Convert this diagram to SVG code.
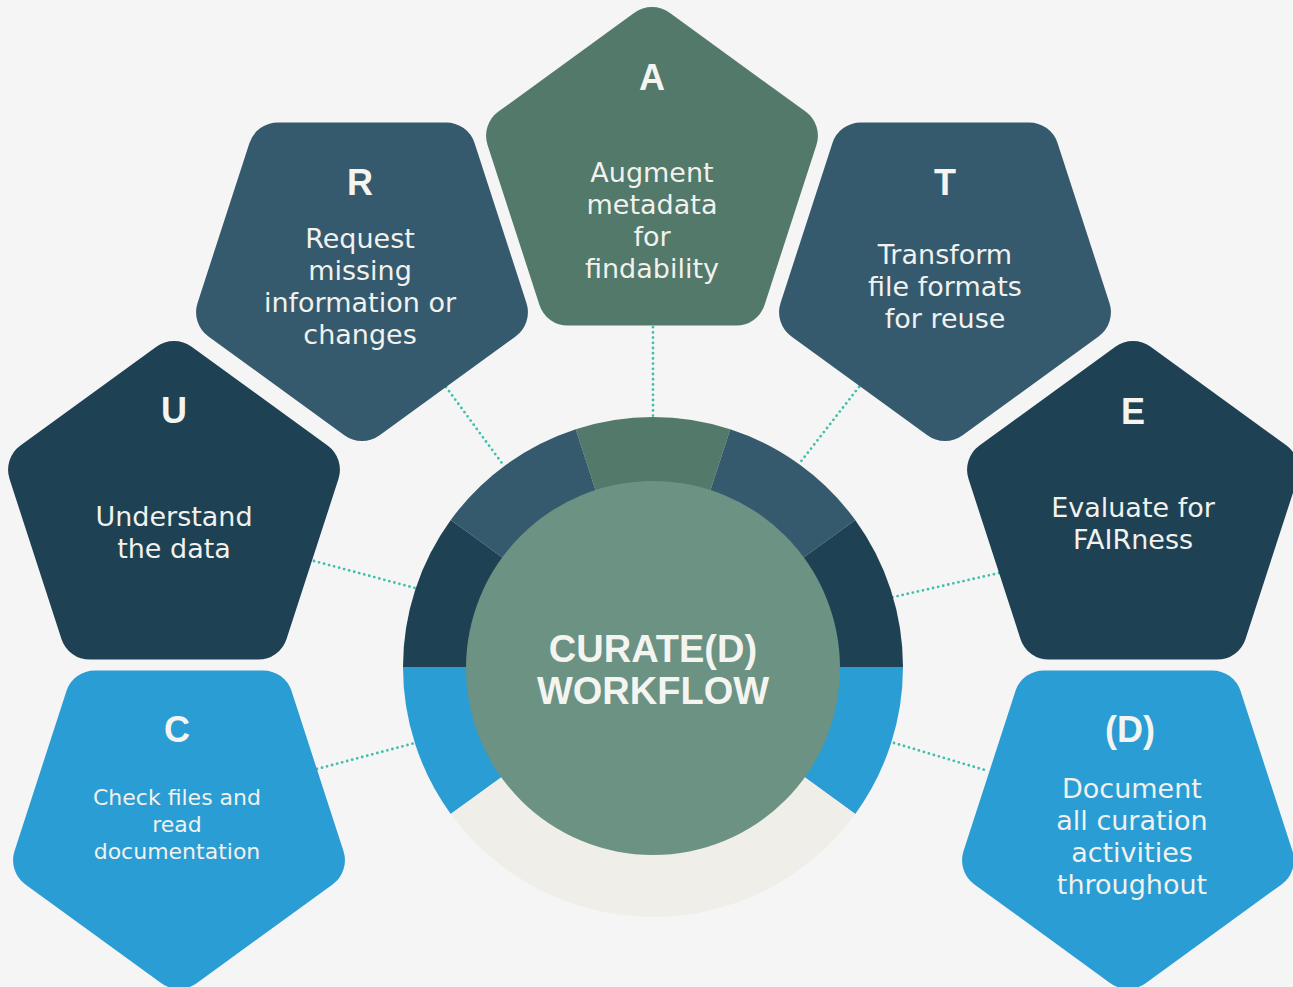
<svg xmlns="http://www.w3.org/2000/svg" xmlns:xlink="http://www.w3.org/1999/xlink" width="1293" height="987" viewBox="0 0 1293 987">
<style>
.bg{fill:#f5f5f5}
.cA{fill:#52796a}
.cR{fill:#365a6d}
.cU{fill:#1e4154}
.cC{fill:#2a9dd4}
.cL{fill:#efeee9}
.core{fill:#6b9282}
.let{font-family:"Liberation Sans",Arial,sans-serif;font-weight:bold;font-size:36px;fill:#f4f4f1;text-anchor:middle}
.txt{font-family:"DejaVu Sans","Noto Sans",sans-serif;font-size:27px;fill:#f1f1ee;text-anchor:middle}
.sm{font-size:22px}
.title{font-family:"Liberation Sans",Arial,sans-serif;font-weight:bold;font-size:38px;fill:#f4f4f1;text-anchor:middle}
.dot{fill:none;stroke:#3dbfa9;stroke-width:2.8;stroke-linecap:round;stroke-dasharray:0 5.2}
</style>
<defs>
<path id="pu" d="M17.64 -167.19 L153.55 -68.43 A30 30 0 0 1 164.45 -34.89 L112.54 124.89 A30 30 0 0 1 84 145.62 L-84 145.62 A30 30 0 0 1 -112.54 124.89 L-164.45 -34.89 A30 30 0 0 1 -153.55 -68.43 L-17.64 -167.19 A30 30 0 0 1 17.64 -167.19 Z"/>
<path id="pd" d="M17.64 167.19 L153.55 68.43 A30 30 0 0 0 164.45 34.89 L112.54 -124.89 A30 30 0 0 0 84 -145.62 L-84 -145.62 A30 30 0 0 0 -112.54 -124.89 L-164.45 34.89 A30 30 0 0 0 -153.55 68.43 L-17.64 167.19 A30 30 0 0 0 17.64 167.19 Z"/>
</defs>
<rect class="bg" x="0" y="0" width="1293" height="987"/>
<g id="connectors">
<line class="dot" x1="653" y1="322" x2="653" y2="420"/>
<line class="dot" x1="446" y1="387" x2="504" y2="466"/>
<line class="dot" x1="859" y1="387" x2="799" y2="464"/>
<line class="dot" x1="314" y1="561" x2="415" y2="588"/>
<line class="dot" x1="999" y1="573" x2="889" y2="598"/>
<line class="dot" x1="317" y1="769" x2="415" y2="743"/>
<line class="dot" x1="894" y1="743" x2="988" y2="771"/>
</g>
<g id="hub">
<path class="cA" d="M653 667 L575.75 429.24 A250 250 0 0 1 730.25 429.24 Z"/>
<path class="cR" d="M653 667 L450.75 520.05 A250 250 0 0 1 575.75 429.24 Z"/>
<path class="cR" d="M653 667 L730.25 429.24 A250 250 0 0 1 855.25 520.05 Z"/>
<path class="cU" d="M653 667 L403 667 A250 250 0 0 1 450.75 520.05 Z"/>
<path class="cU" d="M653 667 L855.25 520.05 A250 250 0 0 1 903 667 Z"/>
<path class="cC" d="M653 667 L450.75 813.95 A250 250 0 0 1 403 667 Z"/>
<path class="cC" d="M653 667 L903 667 A250 250 0 0 1 855.25 813.95 Z"/>
<path class="cL" d="M653 667 L855.25 813.95 A250 250 0 0 1 450.75 813.95 Z"/>
<circle class="core" cx="653" cy="668" r="187"/>
<text class="title" x="653" y="662">CURATE(D)</text>
<text class="title" x="653" y="704">WORKFLOW</text>
</g>
<g id="node-A">
<use xlink:href="#pu" href="#pu" class="cA" transform="translate(652,180)"/>
<text class="let" x="652" y="90">A</text>
<text class="txt" x="652" y="182">Augment</text>
<text class="txt" x="652" y="214">metadata</text>
<text class="txt" x="652" y="246">for</text>
<text class="txt" x="652" y="278">findability</text>
</g>
<g id="node-R">
<use xlink:href="#pd" href="#pd" class="cR" transform="translate(362,268)"/>
<text class="let" x="360" y="195">R</text>
<text class="txt" x="360" y="248">Request</text>
<text class="txt" x="360" y="280">missing</text>
<text class="txt" x="360" y="312">information or</text>
<text class="txt" x="360" y="344">changes</text>
</g>
<g id="node-T">
<use xlink:href="#pd" href="#pd" class="cR" transform="translate(945,268)"/>
<text class="let" x="945" y="195">T</text>
<text class="txt" x="945" y="264">Transform</text>
<text class="txt" x="945" y="296">file formats</text>
<text class="txt" x="945" y="328">for reuse</text>
</g>
<g id="node-U">
<use xlink:href="#pu" href="#pu" class="cU" transform="translate(174,514)"/>
<text class="let" x="174" y="423">U</text>
<text class="txt" x="174" y="526">Understand</text>
<text class="txt" x="174" y="558">the data</text>
</g>
<g id="node-E">
<use xlink:href="#pu" href="#pu" class="cU" transform="translate(1133,514)"/>
<text class="let" x="1133" y="424">E</text>
<text class="txt" x="1133" y="517">Evaluate for</text>
<text class="txt" x="1133" y="549">FAIRness</text>
</g>
<g id="node-C">
<use xlink:href="#pd" href="#pd" class="cC" transform="translate(179,816)"/>
<text class="let" x="177" y="742">C</text>
<text class="txt sm" x="177" y="805">Check files and</text>
<text class="txt sm" x="177" y="832">read</text>
<text class="txt sm" x="177" y="859">documentation</text>
</g>
<g id="node-D">
<use xlink:href="#pd" href="#pd" class="cC" transform="translate(1128,816)"/>
<text class="let" x="1130" y="742">(D)</text>
<text class="txt" x="1132" y="798">Document</text>
<text class="txt" x="1132" y="830">all curation</text>
<text class="txt" x="1132" y="862">activities</text>
<text class="txt" x="1132" y="894">throughout</text>
</g>
</svg>
